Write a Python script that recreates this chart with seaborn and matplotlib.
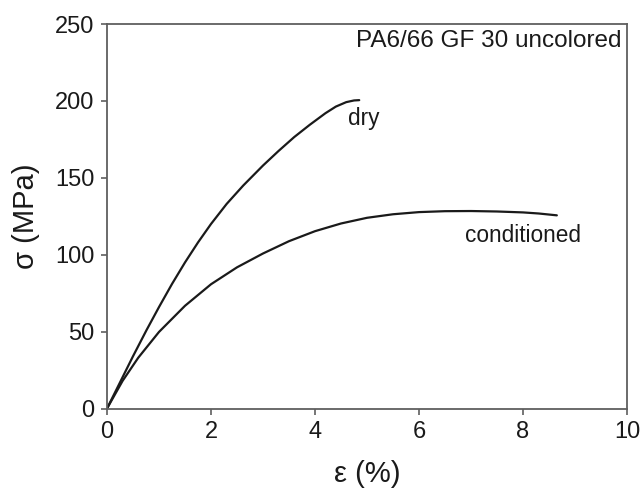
import pandas as pd
import matplotlib
matplotlib.use("Agg")
import matplotlib.pyplot as plt
import seaborn as sns

# Stress-strain values
dry_strain = [0.0, 0.25, 0.5, 0.76, 1.0, 1.25, 1.5, 1.75, 2.0, 2.3, 2.62, 3.0, 3.3, 3.6, 3.9, 4.2, 4.4, 4.6, 4.75, 4.85]
dry_stress = [0.0, 17.0, 34.0, 51.0, 66.0, 81.0, 95.0, 108.0, 120.0, 133.0, 145.0, 158.0, 167.5, 176.5, 184.5, 192.0, 196.3, 199.2, 200.3, 200.5]

cond_strain = [0.0, 0.3, 0.6, 1.0, 1.5, 2.0, 2.5, 3.0, 3.5, 4.0, 4.5, 5.0, 5.5, 6.0, 6.5, 7.0, 7.5, 8.0, 8.3, 8.65]
cond_stress = [0.0, 18.0, 33.0, 49.8, 66.8, 80.8, 91.8, 100.8, 108.8, 115.3, 120.3, 124.0, 126.3, 127.7, 128.3, 128.4, 128.1, 127.5, 126.8, 125.6]

x_ticks = [0, 2, 4, 6, 8, 10]
y_ticks = [0, 50, 100, 150, 200, 250]

dry = pd.DataFrame({"strain": dry_strain, "stress": dry_stress})
cond = pd.DataFrame({"strain": cond_strain, "stress": cond_stress})

sns.set_style("ticks")
plt.rcParams["font.family"] = ["Liberation Sans", "DejaVu Sans"]

fig = plt.figure(figsize=(6.42, 4.92), dpi=100)
ax = fig.add_axes([0.1667, 0.1697, 0.81, 0.7815])

line_color = "#1a1a1a"
sns.lineplot(data=dry, x="strain", y="stress", ax=ax, color=line_color,
             linewidth=1.6, sort=False, estimator=None)
sns.lineplot(data=cond, x="strain", y="stress", ax=ax, color=line_color,
             linewidth=1.6, sort=False, estimator=None)

ax.set_xlim(0, 10)
ax.set_ylim(0, 250)
ax.set_xticks(x_ticks)
ax.set_yticks(y_ticks)

for side in ["top", "right", "bottom", "left"]:
    ax.spines[side].set_visible(True)
    ax.spines[side].set_color("#5f5f5f")
    ax.spines[side].set_linewidth(1.3)

ax.tick_params(direction="out", length=4, width=1.2, color="#5f5f5f",
               labelsize=17, labelcolor="#1a1a1a", pad=5)

ax.set_xlabel("ε (%)", fontsize=21, color="#1a1a1a", labelpad=12)
ax.set_ylabel("σ (MPa)", fontsize=21, color="#1a1a1a", labelpad=11)

ax.text(0.99, 0.985, "PA6/66 GF 30 uncolored", transform=ax.transAxes,
        ha="right", va="top", fontsize=17.5, color="#1a1a1a")
ax.text(4.63, 196, "dry", ha="left", va="top", fontsize=16.3, color="#1a1a1a")
ax.text(6.88, 108.5, "conditioned", ha="left", va="baseline", fontsize=16.3, color="#1a1a1a")

fig.savefig("out.png", dpi=100, facecolor="white")
